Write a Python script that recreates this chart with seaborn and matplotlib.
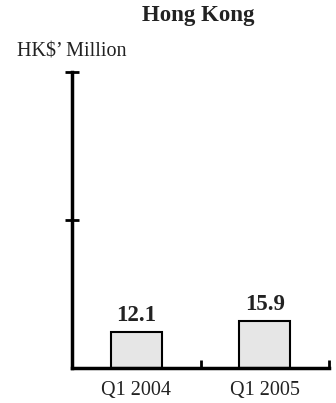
import matplotlib
matplotlib.use("Agg")
import matplotlib.pyplot as plt
import seaborn as sns
import pandas as pd
from matplotlib.ticker import FixedLocator

# Quarterly figures (HK$ million)
periods = ["Q1 2004", "Q1 2005"]
values = [12.1, 15.9]
value_labels = ["12.1", "15.9"]

sns.set_style("white")
plt.rcParams["font.family"] = ["Liberation Serif", "DejaVu Serif"]

df = pd.DataFrame({"period": periods, "value": values})

fig = plt.figure(figsize=(3.36, 4.03), dpi=100)
ax = fig.add_axes([72 / 336, 35 / 403, (329 - 72) / 336, (368 - 72) / 403])

sns.barplot(data=df, x="period", y="value", ax=ax, color="#e6e6e6",
            edgecolor="black", linewidth=1.5, width=0.4, saturation=1)

ax.set_xlim(-0.5, 1.5)
ax.set_ylim(0, 100)

for spine in ["top", "right"]:
    ax.spines[spine].set_visible(False)
for spine in ["left", "bottom"]:
    ax.spines[spine].set_linewidth(2.5)
    ax.spines[spine].set_color("black")

# y axis: unlabeled tick marks crossing the axis
ax.set_yticks([50, 100])
ax.set_yticklabels([])
ax.tick_params(axis="y", which="major", direction="inout", length=10, width=2, color="black", left=True)

# x axis: category labels without marks, separator marks between groups
ax.tick_params(axis="x", which="major", length=0, pad=9, labelsize=14.5, labelcolor="#222222")
ax.xaxis.set_minor_locator(FixedLocator([0.5, 1.5]))
ax.tick_params(axis="x", which="minor", direction="in", length=6, width=2, color="black", bottom=True)
ax.set_xlabel("")
ax.set_ylabel("")

for i, (v, lab) in enumerate(zip(values, value_labels)):
    ax.annotate(lab, xy=(i, v), xytext=(0, 8), textcoords="offset points",
                ha="center", va="baseline", fontsize=16.5, fontweight="bold", color="#222222")

fig.text(198 / 336, 1 - 15 / 403, "Hong Kong", ha="center", va="center",
         fontsize=16.5, fontweight="bold", color="#222222")
fig.text(17 / 336, 1 - 52 / 403, "HK$\u2019 Million", ha="left", va="center",
         fontsize=14.5, color="#222222")

fig.savefig("out.png", dpi=100)
